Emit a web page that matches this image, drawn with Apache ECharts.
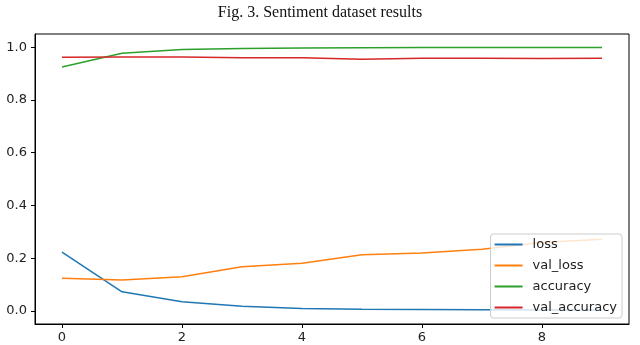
<!DOCTYPE html>
<html>
<head>
<meta charset="utf-8">
<script src="https://cdn.jsdelivr.net/npm/echarts@6/dist/echarts.min.js"></script>
<style>
  html, body { margin: 0; padding: 0; background: #fff; }
  #chart { width: 640px; height: 345px; }
</style>
</head>
<body>
<div id="chart"></div>
<script>
// epochs and values
var epochs = [0, 1, 2, 3, 4, 5, 6, 7, 8, 9];
var loss = [0.223, 0.073, 0.035, 0.018, 0.010, 0.007, 0.006, 0.005, 0.004, 0.004];
var valLoss = [0.124, 0.118, 0.130, 0.168, 0.181, 0.213, 0.220, 0.234, 0.260, 0.272];
var accuracy = [0.925, 0.977, 0.991, 0.995, 0.997, 0.998, 0.999, 0.999, 0.999, 0.999];
var valAccuracy = [0.962, 0.963, 0.963, 0.960, 0.960, 0.954, 0.958, 0.958, 0.957, 0.958];
var xTicks = [0, 2, 4, 6, 8];
var yTicks = [0, 0.2, 0.4, 0.6, 0.8, 1.0];

function pairs(ys) {
    return epochs.map(function (x, i) { return [x, ys[i]]; });
}

function mkSeries(name, ys, color) {
    return {
        name: name,
        type: 'line',
        data: pairs(ys),
        symbol: 'none',
        color: color,
        lineStyle: { width: 1.5, color: color },
        emphasis: { disabled: true },
        animation: false
    };
}

var tickFont = { fontFamily: 'DejaVu Sans', fontSize: 13, color: '#222' };

var option = {
    backgroundColor: '#fff',
    title: {
        text: 'Fig. 3. Sentiment dataset results',
        left: 'center',
        top: 0,
        textStyle: { fontFamily: 'Liberation Serif', fontWeight: 'normal', fontSize: 16, color: '#111' }
    },
    grid: {
        left: 35, right: 11, top: 34, bottom: 21,
        show: true, borderColor: '#000', borderWidth: 1
    },
    legend: {
        orient: 'vertical',
        right: 18,
        bottom: 27,
        icon: 'rect',
        itemWidth: 28,
        itemHeight: 2,
        itemGap: 8,
        padding: [4, 5, 4, 4],
        backgroundColor: 'rgba(255,255,255,0.8)',
        borderColor: '#ccc',
        borderWidth: 1,
        borderRadius: 3,
        textStyle: { fontFamily: 'DejaVu Sans', fontSize: 13, color: '#222', padding: [0, 0, 0, 5] },
        data: ['loss', 'val_loss', 'accuracy', 'val_accuracy']
    },
    xAxis: {
        type: 'value',
        min: -0.45,
        max: 9.45,
        splitLine: { show: false },
        axisLine: { show: true, onZero: false, lineStyle: { color: '#000', width: 1 } },
        axisTick: { show: true, length: 4, customValues: xTicks, lineStyle: { color: '#000' } },
        axisLabel: Object.assign({ customValues: xTicks, margin: 7 }, tickFont)
    },
    yAxis: {
        type: 'value',
        min: -0.049,
        max: 1.05,
        splitLine: { show: false },
        axisLine: { show: true, onZero: false, lineStyle: { color: '#000', width: 1 } },
        axisTick: { show: true, length: 4, customValues: yTicks, lineStyle: { color: '#000' } },
        axisLabel: Object.assign({
            customValues: yTicks,
            margin: 8,
            formatter: function (v) { return v.toFixed(1); }
        }, tickFont)
    },
    series: [
        mkSeries('loss', loss, '#1f77b4'),
        mkSeries('val_loss', valLoss, '#ff7f0e'),
        mkSeries('accuracy', accuracy, '#2ca02c'),
        mkSeries('val_accuracy', valAccuracy, '#d62728')
    ]
};

var myChart = echarts.init(document.getElementById('chart'));
myChart.setOption(option);
</script>
</body>
</html>
